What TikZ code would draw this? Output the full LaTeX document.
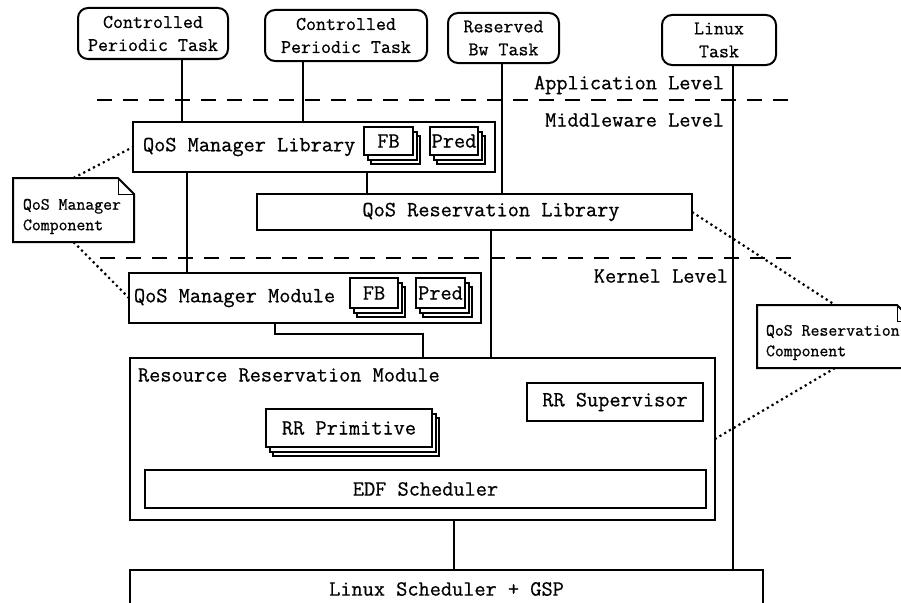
\documentclass[tikz,border=0pt]{standalone}
\usepackage{fontspec}
\newfontfamily\heavymono[FakeBold=0.7]{Latin Modern Mono}
\usetikzlibrary{shadows}
\newcommand\mainfs{\heavymono\fontsize{21.7}{24}\selectfont}
\newcommand\taskfs{\heavymono\fontsize{19.4}{23}\selectfont}
\newcommand\notefs{\heavymono\fontsize{17.3}{20.5}\selectfont}
\begin{document}
\begin{tikzpicture}[x=1pt,y=-1pt,
  every node/.style={inner sep=0pt, outer sep=0pt},
  box/.style={draw, line width=2pt, fill=white, font=\mainfs},
  task/.style={box, rounded corners=10pt, align=center, font=\taskfs},
  stackbox/.style={box, double copy shadow={shadow xshift=3.5pt, shadow yshift=-4.5pt,
      draw, fill=white, line width=2pt}},
  conn/.style={line width=2pt},
  levelline/.style={line width=2pt, dash pattern=on 15pt off 11pt},
  dots/.style={line width=2.2pt, dash pattern=on 2.2pt off 3.3pt},
  notebox/.style={line width=2pt, fill=white},
  lbl/.style={font=\mainfs}]
\clip (0,0) rectangle (901,602);

% column positions of the vertical links
\coordinate (c1) at (182,0);
\coordinate (c2) at (303,0);
\coordinate (c3) at (502,0);
\coordinate (c4) at (733,0);
\coordinate (c5) at (187,0);
\coordinate (c6) at (367,0);
\coordinate (c7) at (491,0);
\coordinate (c8) at (275,0);
\coordinate (c10) at (454,0);
\coordinate (bend) at (423,334);

% level separators
\coordinate (d1a) at (97,100);
\coordinate (d1b) at (790,100);
\coordinate (d2a) at (100,258);
\coordinate (d2b) at (792,258);
\draw[levelline] (d1a) -- (d1b);
\draw[levelline] (d2a) -- (d2b);
\node[lbl, anchor=east] (lapp) at (724,85) {Application Level};
\node[lbl, anchor=east] (lmid) at (724,120) {Middleware Level};
\node[lbl, anchor=east] (lker) at (728,276) {Kernel Level};

% tasks
\node[task, minimum width=150pt, minimum height=51pt] (t1) at (153,33.5) {Controlled\\Periodic Task};
\node[task, minimum width=162pt, minimum height=51pt] (t2) at (346,35.5) {Controlled\\Periodic Task};
\node[task, minimum width=111pt, minimum height=50pt] (t3) at (503.5,38) {Reserved\\Bw Task};
\node[task, minimum width=114pt, minimum height=50pt] (t4) at (719,40) {Linux\\Task};

% middleware
\node[box, minimum width=362pt, minimum height=50pt] (qml) at (314,147) {};
\node[lbl, anchor=west] (qmlt) at (143,147) {QoS Manager Library};
\node[stackbox, minimum width=49pt, minimum height=28pt] (fb1) at (388.5,141) {FB};
\node[stackbox, minimum width=48pt, minimum height=28pt] (pr1) at (454,141) {Pred};

\node[box, minimum width=435pt, minimum height=36pt] (qrl) at (474.5,212) {};
\node[lbl] (qrlt) at (491,212) {QoS Reservation Library};

% kernel
\node[box, minimum width=352pt, minimum height=50pt] (qmm) at (305,298) {};
\node[lbl, anchor=west] (qmmt) at (134,298) {QoS Manager Module};
\node[stackbox, minimum width=48pt, minimum height=30pt] (fb2) at (374,293) {FB};
\node[stackbox, minimum width=49pt, minimum height=30pt] (pr2) at (440.5,293) {Pred};

\node[box, minimum width=585pt, minimum height=162pt] (rrm) at (422.5,439) {};
\node[lbl, anchor=west] (rrmt) at (138,375) {Resource Reservation Module};
\node[box, minimum width=176pt, minimum height=38pt] (rrs) at (615,402) {RR Supervisor};
\node[stackbox, minimum width=166pt, minimum height=38pt] (rrp) at (349,428) {RR Primitive};
\node[box, minimum width=561pt, minimum height=38pt] (edf) at (425.5,489) {EDF Scheduler};

\node[box, minimum width=633pt, minimum height=38pt] (ls) at (446.5,589) {Linux Scheduler + GSP};

% links
\draw[conn] (t1.south -| c1) -- (qml.north -| c1);
\draw[conn] (t2.south -| c2) -- (qml.north -| c2);
\draw[conn] (t3.south -| c3) -- (qrl.north -| c3);
\draw[conn] (t4.south -| c4) -- (ls.north -| c4);
\draw[conn] (qml.south -| c5) -- (qmm.north -| c5);
\draw[conn] (qml.south -| c6) -- (qrl.north -| c6);
\draw[conn] (qrl.south -| c7) -- (rrm.north -| c7);
\draw[conn] (qmm.south -| c8) |- (bend) -- (rrm.north -| bend);
\draw[conn] (rrm.south -| c10) -- (ls.north -| c10);

% component notes
\node[minimum width=121pt, minimum height=64pt] (qmc) at (73.5,210) {};
\draw[notebox] (qmc.north west) -- ([xshift=-16pt]qmc.north east)
  -- ([yshift=-16pt]qmc.north east) -- (qmc.south east) -- (qmc.south west) -- cycle;
\draw[line width=0.9pt] ([xshift=-16pt]qmc.north east) |- ([yshift=-16pt]qmc.north east);
\node[font=\notefs, align=left, anchor=west] (qmct) at (23,216.5) {QoS Manager\\Component};

\node[minimum width=156pt, minimum height=63pt] (qrc) at (835,336.5) {};
\draw[notebox] (qrc.north west) -- ([xshift=-16pt]qrc.north east)
  -- ([yshift=-16pt]qrc.north east) -- (qrc.south east) -- (qrc.south west) -- cycle;
\draw[line width=0.9pt] ([xshift=-16pt]qrc.north east) |- ([yshift=-16pt]qrc.north east);
\node[font=\notefs, align=left, anchor=west] (qrct) at (766,342.5) {QoS Reservation\\Component};

\draw[dots] (qmc.north) -- (qml.west);
\draw[dots] (qmc.south) -- (qmm.west);
\draw[dots] (qrl.east) -- (qrc.north);
\draw[dots] (qrc.south) -- (rrm.east);
\end{tikzpicture}
\end{document}
